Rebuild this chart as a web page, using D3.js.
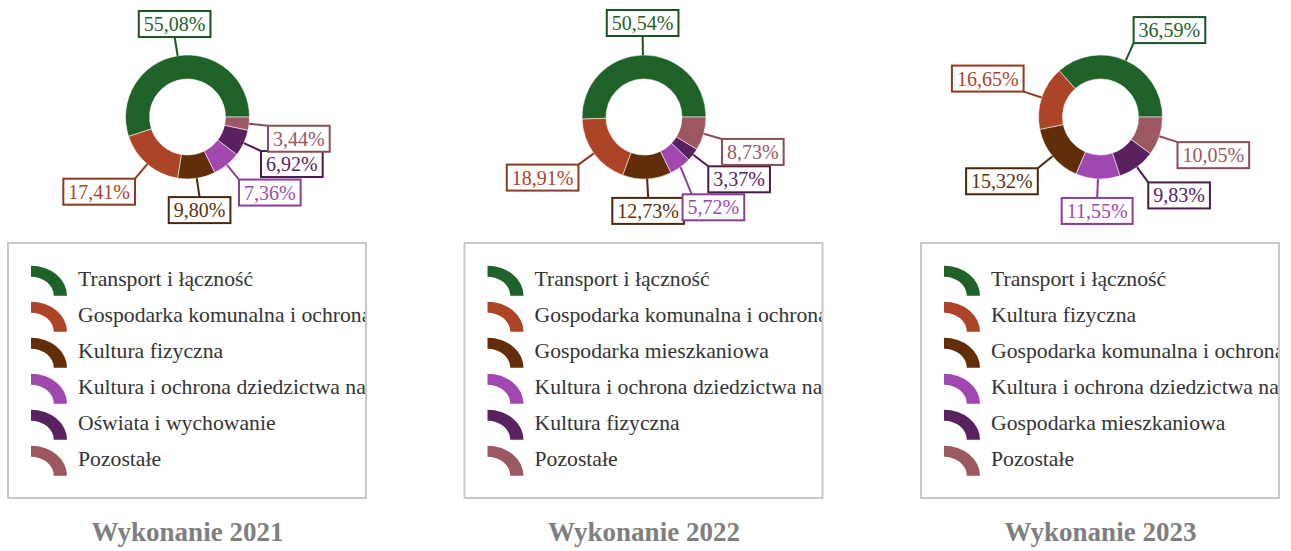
<!DOCTYPE html>
<html>
<head>
<meta charset="utf-8">
<script src="https://cdn.jsdelivr.net/npm/d3@7"></script>
<style>
  body { margin: 0; background: #fff; }
  svg { display: block; }
</style>
</head>
<body>
<svg id="chart" width="1291" height="551"></svg>
<script>
// Expenditure structure by section, one donut per year
const titles = ["Wykonanie 2021", "Wykonanie 2022", "Wykonanie 2023"];

const categories2021 = [
  "Transport i łączność",
  "Gospodarka komunalna i ochrona środowiska",
  "Kultura fizyczna",
  "Kultura i ochrona dziedzictwa narodowego",
  "Oświata i wychowanie",
  "Pozostałe"
];
const values2021 = [55.08, 17.41, 9.80, 7.36, 6.92, 3.44];

const categories2022 = [
  "Transport i łączność",
  "Gospodarka komunalna i ochrona środowiska",
  "Gospodarka mieszkaniowa",
  "Kultura i ochrona dziedzictwa narodowego",
  "Kultura fizyczna",
  "Pozostałe"
];
const values2022 = [50.54, 18.91, 12.73, 5.72, 3.37, 8.73];

const categories2023 = [
  "Transport i łączność",
  "Kultura fizyczna",
  "Gospodarka komunalna i ochrona środowiska",
  "Kultura i ochrona dziedzictwa narodowego",
  "Gospodarka mieszkaniowa",
  "Pozostałe"
];
const values2023 = [36.59, 16.65, 15.32, 11.55, 9.83, 10.05];

const palette = ["#1e6229", "#ac4427", "#612e09", "#a048b0", "#5a2161", "#9c5861"];
const borderPalette = ["#1b5226", "#8e3a22", "#4e2608", "#8a3e9a", "#4a1a50", "#8a4d55"];

const charts = [
  { title: titles[0], cats: categories2021, vals: values2021 },
  { title: titles[1], cats: categories2022, vals: values2022 },
  { title: titles[2], cats: categories2023, vals: values2023 }
];

const serif = "'Liberation Serif', 'Times New Roman', serif";
const svg = d3.select("#chart");

const outerR = 62, innerR = 38;
const pie = d3.pie().sort(null).value(d => d)
  .startAngle(Math.PI / 2).endAngle(Math.PI / 2 - 2 * Math.PI);
const arc = d3.arc().innerRadius(innerR).outerRadius(outerR);
const legendArc = d3.arc().innerRadius(19).outerRadius(30).startAngle(0).endAngle(Math.PI / 2);
const fmt = v => d3.format(".2f")(v).replace(".", ",") + "%";

charts.forEach((c, ci) => {
  const cx = 187.5 + 456.5 * ci;
  const cy = 117;
  const g = svg.append("g");

  // donut
  const slices = pie(c.vals);
  g.append("g").attr("transform", `translate(${cx},${cy})`)
    .selectAll("path").data(slices).join("path")
    .attr("d", arc)
    .attr("fill", (d, i) => palette[i])
    .attr("stroke", "rgba(255,255,255,0.55)")
    .attr("stroke-width", 1);

  // value labels with connectors
  const labelLayer = g.append("g");
  const labels = slices.map((d, i) => {
    const a = (d.startAngle + d.endAngle) / 2;
    const ux = Math.sin(a), uy = -Math.cos(a);
    const rA = outerR + 19;
    const lg = labelLayer.append("g");
    const line = lg.append("line");
    const rect = lg.append("rect");
    const txt = lg.append("text")
      .attr("font-family", serif)
      .attr("font-size", 20)
      .attr("fill", palette[i])
      .attr("text-anchor", "middle")
      .text(fmt(c.vals[i]));
    const w = txt.node().getComputedTextLength() + 10;
    return {
      i, ux, uy, w, h: 26, line, rect, txt,
      ex: cx + ux * outerR, ey: cy + uy * outerR,
      ax: cx + ux * rA, ay: cy + uy * rA
    };
  });

  // place boxes, later slices first; a box that overlaps one already placed is pushed clear
  const placed = [];
  labels.slice().reverse().forEach(L => {
    const { ux, uy, w, h, ax, ay, ex } = L;
    let bx = Math.abs(ux) < 0.2 ? ax - w / 2 : (ux > 0 ? ax : ax - w);
    let by = uy > 0 ? ay : ay - h;
    let moved = true, pushed = false, guard = 0;
    while (moved && guard++ < 10) {
      moved = false;
      for (const p of placed) {
        const ox = Math.min(bx + w, p.x + p.w) - Math.max(bx, p.x);
        const oy = Math.min(by + h, p.y + p.h) - Math.max(by, p.y);
        if (ox > 3 && oy > 3) {
          by = uy > 0 ? p.y + p.h + 2 : p.y - h - 2;
          moved = true; pushed = true;
        }
      }
    }
    if (pushed && ux > 0) bx = Math.min(bx, ex + 2);
    if (pushed && ux < 0) bx = Math.max(bx, ex - 2 - w);
    placed.push({ x: bx, y: by, w, h });
    L.bx = bx; L.by = by;
  });

  labels.forEach(L => {
    const { bx, by, w, h, ax, ay, i } = L;
    const tx = Math.max(bx, Math.min(bx + w, ax));
    const ty = Math.max(by, Math.min(by + h, ay));
    L.line.attr("x1", L.ex).attr("y1", L.ey).attr("x2", tx).attr("y2", ty)
      .attr("stroke", borderPalette[i]).attr("stroke-width", 2);
    L.rect.attr("x", bx).attr("y", by).attr("width", w).attr("height", h)
      .attr("fill", "#fff").attr("stroke", borderPalette[i]).attr("stroke-width", 2);
    L.txt.attr("x", bx + w / 2).attr("y", by + h / 2 + 7);
  });

  // legend
  const lx = cx - 179.5, ly = 243, lw = 358, lh = 255;
  const clipId = "legclip" + ci;
  svg.append("clipPath").attr("id", clipId)
    .append("rect").attr("x", lx + 1).attr("y", ly + 1).attr("width", lw - 2).attr("height", lh - 2);
  g.append("rect")
    .attr("x", lx).attr("y", ly).attr("width", lw).attr("height", lh)
    .attr("fill", "none").attr("stroke", "#c8c8c8").attr("stroke-width", 2);
  const items = g.append("g").attr("clip-path", `url(#${clipId})`)
    .selectAll("g").data(c.cats).join("g")
    .attr("transform", (d, i) => `translate(0,${285.7 + 36 * i})`);
  items.append("path")
    .attr("d", legendArc)
    .attr("transform", `translate(${cx - 156.5},10) scale(1.2,1)`)
    .attr("fill", (d, i) => palette[i]);
  items.append("text")
    .attr("x", cx - 109.5).attr("y", 0)
    .attr("font-family", serif).attr("font-size", 21.7)
    .attr("fill", "#333")
    .text(d => d);

  // year title
  g.append("text")
    .attr("x", cx).attr("y", 541)
    .attr("text-anchor", "middle")
    .attr("font-family", serif).attr("font-size", 27).attr("font-weight", "bold")
    .attr("fill", "#7f7f7f")
    .text(c.title);
});
</script>
</body>
</html>
